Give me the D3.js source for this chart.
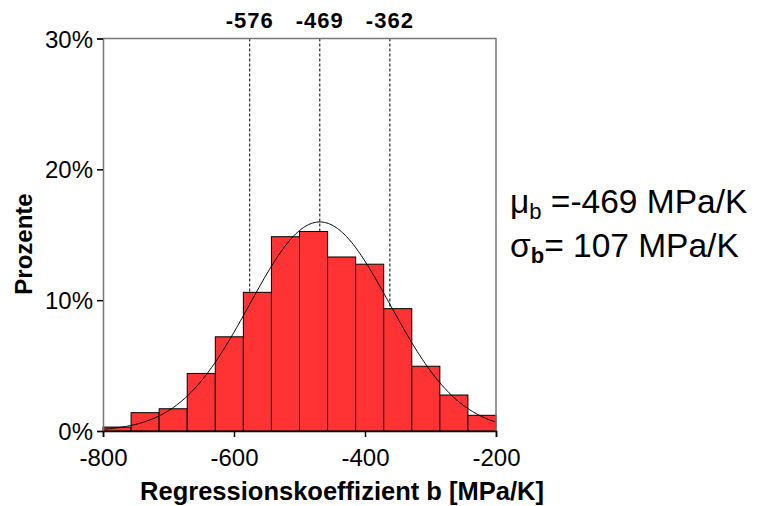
<!DOCTYPE html>
<html lang="de">
<head>
<meta charset="UTF-8">
<title>Histogramm Regressionskoeffizient</title>
<script src="https://cdn.jsdelivr.net/npm/d3@7"></script>
<style>
  body { margin: 0; background: #fff; }
  svg { display: block; font-family: "Liberation Sans", Arial, sans-serif; }
  .tick text { font-size: 24px; fill: #000; }
  .axis-title { font-weight: bold; fill: #000; }
  .bar { fill: #ff3333; stroke: #000; stroke-width: 1; }
  .ref { stroke: #000; stroke-width: 1; stroke-dasharray: 3,2; }
  .curve { fill: none; stroke: #000; stroke-width: 1; }
</style>
</head>
<body>
<div id="chart"></div>
<script>
// histogram values in percent, 14 bins from -800 to -200
var binStart = -800;
var binEnd = -200;
var percents = [0.3, 1.4, 1.7, 4.4, 7.2, 10.6, 14.85, 15.25, 13.3, 12.75, 9.35, 4.95, 2.75, 1.2];
var xTicks = [-800, -600, -400, -200];
var yTicks = [0, 10, 20, 30];
// fitted normal distribution
var mu = -469;
var sigma = 107;
var refLines = [mu - sigma, mu, mu + sigma];

var width = 761, height = 506;
var mLeft = 103, mRight = 496, mTop = 38.5, mBottom = 431;

var svg = d3.select("#chart").append("svg")
  .attr("width", width).attr("height", height);

var x = d3.scaleLinear().domain([binStart, binEnd]).range([mLeft, mRight]);
var y = d3.scaleLinear().domain([0, 30]).range([mBottom, mTop]);

var binW = (binEnd - binStart) / percents.length;
var bins = percents.map(function(p, i) {
  return { x0: binStart + i * binW, x1: binStart + (i + 1) * binW, p: p };
});

// dashed reference lines (behind bars)
svg.append("g").selectAll("line")
  .data(refLines)
  .enter().append("line")
    .attr("class", "ref")
    .attr("x1", function(d) { return x(d); })
    .attr("x2", function(d) { return x(d); })
    .attr("y1", mTop)
    .attr("y2", mBottom);

svg.append("g").selectAll("text")
  .data(refLines)
  .enter().append("text")
    .attr("x", function(d) { return x(d); })
    .attr("y", 28)
    .attr("text-anchor", "middle")
    .style("font-size", "22px")
    .style("font-weight", "bold")
    .style("letter-spacing", "1px")
    .text(function(d) { return String(d); });

// bars
svg.append("g").selectAll("rect")
  .data(bins)
  .enter().append("rect")
    .attr("class", "bar")
    .attr("x", function(d) { return x(d.x0); })
    .attr("width", function(d) { return x(d.x1) - x(d.x0); })
    .attr("y", function(d) { return y(d.p); })
    .attr("height", function(d) { return mBottom - y(d.p); });

// normal curve scaled to percent per bin
var xs = d3.range(binStart, binEnd + 1, 2);
var line = d3.line()
  .x(function(d) { return x(d); })
  .y(function(d) {
    var z = (d - mu) / sigma;
    return y(100 * binW / (sigma * Math.sqrt(2 * Math.PI)) * Math.exp(-0.5 * z * z));
  });
svg.append("path").attr("class", "curve").attr("d", line(xs));

// frame: top and right
svg.append("path")
  .attr("d", "M" + mLeft + "," + mTop + "H" + mRight + "V" + mBottom)
  .attr("fill", "none")
  .attr("stroke", "#777")
  .attr("stroke-width", 1.5);

// axes
var yAxis = svg.append("g")
  .attr("transform", "translate(" + mLeft + ",0)")
  .call(d3.axisLeft(y).tickValues(yTicks).tickSize(6).tickPadding(4)
    .tickFormat(function(d) { return d + "%"; }));
yAxis.select(".domain").attr("stroke", "#777").attr("stroke-width", 1.5);
yAxis.selectAll(".tick line").attr("stroke", "#000").attr("stroke-width", 1.5);
yAxis.selectAll(".tick text").attr("dy", "0.36em");

var xAxis = svg.append("g")
  .attr("transform", "translate(0," + mBottom + ")")
  .call(d3.axisBottom(x).tickValues(xTicks).tickSize(6).tickPadding(12)
    .tickFormat(function(d) { return String(d); }));
xAxis.select(".domain").attr("stroke", "#000").attr("stroke-width", 1.5);
xAxis.selectAll(".tick line").attr("stroke", "#000").attr("stroke-width", 1.5);

// axis titles
svg.append("text")
  .attr("class", "axis-title")
  .attr("x", 342).attr("y", 500)
  .attr("text-anchor", "middle")
  .style("font-size", "25.5px")
  .text("Regressionskoeffizient b [MPa/K]");

svg.append("text")
  .attr("class", "axis-title")
  .attr("transform", "translate(32,244) rotate(-90)")
  .attr("text-anchor", "middle")
  .style("font-size", "24px")
  .text("Prozente");

// statistics text
var t1 = svg.append("text").attr("x", 510).attr("y", 213).style("font-size", "33.5px");
t1.append("tspan").text("\u03bc");
t1.append("tspan").attr("dy", 6).style("font-size", "22px").text("b");
t1.append("tspan").attr("dy", -6).text(" =-469 MPa/K");

var t2 = svg.append("text").attr("x", 510).attr("y", 257).style("font-size", "33.5px");
t2.append("tspan").text("\u03c3");
t2.append("tspan").attr("dy", 6).style("font-size", "22px").style("font-weight", "bold").text("b");
t2.append("tspan").attr("dy", -6).text("= 107 MPa/K");
</script>
</body>
</html>
